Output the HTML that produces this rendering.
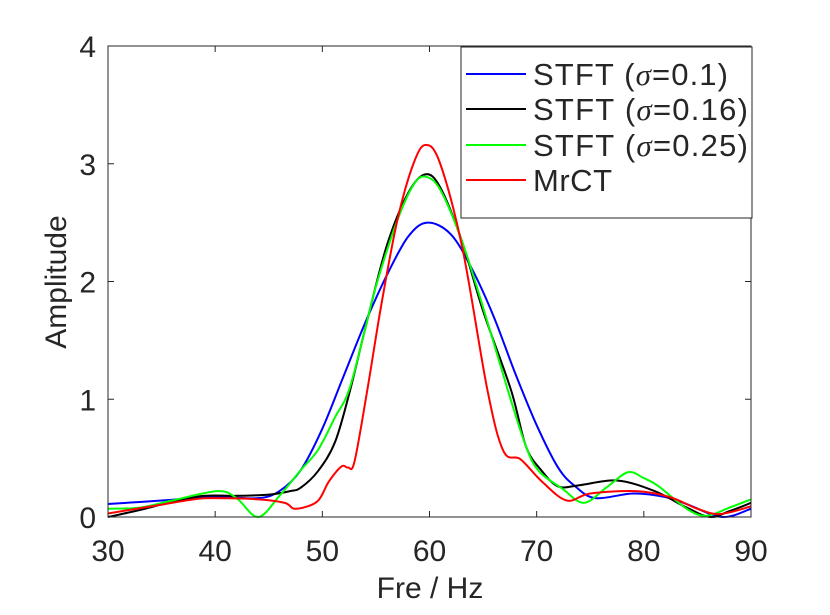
<!DOCTYPE html>
<html><head><meta charset="utf-8"><style>
body{margin:0;background:#fff}
svg text{font-family:"Liberation Sans",sans-serif;fill:#262626}
</style></head><body>
<svg id="chart" width="830" height="610" xmlns="http://www.w3.org/2000/svg">
<rect width="830" height="610" fill="#fff"/>
<g id="plot"></g>
<g id="axes"></g>
<g id="legend"></g>
</svg>
<script>
const xTicks=[30,40,50,60,70,80,90];
const yTicks=[0,1,2,3,4];
const blueX=[30,35,40,44,46,48,50,52,54,56,58,59.8,62,64,66,68,70,72,73.6,75.5,79,82,84,87.3,90];
const blueY=[0.11,0.14,0.17,0.16,0.22,0.40,0.75,1.2,1.65,2.05,2.38,2.5,2.4,2.1,1.7,1.22,0.78,0.42,0.26,0.16,0.2,0.17,0.11,0.0,0.07];
const blackX=[30,33,36,39,42,45,47,48,49.6,51.2,52.6,54,56,58,59.6,61,63,65,67.6,69,70.4,72,74,77.5,81,84,86.2,88,90];
const blackY=[0,0.06,0.13,0.18,0.18,0.19,0.22,0.25,0.39,0.64,1.08,1.6,2.3,2.75,2.91,2.8,2.35,1.75,1.08,0.6,0.40,0.26,0.27,0.31,0.22,0.08,0,0.05,0.12];
const greenX=[30,33,36,40.2,42,44,46,48,49.6,51.2,52.5,54,55.1,57,58.5,59.6,61,63,65,67.3,69,70.2,72.4,74.4,76.5,78.5,80,81.4,84,85.8,88,90];
const greenY=[0.07,0.08,0.14,0.22,0.16,0,0.18,0.4,0.57,0.85,1.08,1.6,1.99,2.52,2.82,2.89,2.78,2.35,1.78,1.08,0.6,0.39,0.24,0.12,0.25,0.38,0.33,0.26,0.07,0.01,0.08,0.15];
const redX=[30,34,38,40,44,46.5,47.5,49.5,50.6,51.8,52.4,53,54.2,55.5,57,58.5,59.65,61,63.1,65.4,66.9,68.5,70.5,72.8,75,79.3,82.4,85,87.1,90];
const redY=[0.03,0.09,0.15,0.16,0.15,0.12,0.07,0.13,0.3,0.43,0.42,0.47,1.08,1.8,2.52,3.0,3.16,3.0,2.27,1.08,0.56,0.49,0.3,0.14,0.2,0.22,0.17,0.07,0.025,0.09];
const seriesNames=["STFT (σ=0.1)","STFT (σ=0.16)","STFT (σ=0.25)","MrCT"];

const X0=108,X1=751,Y0=517,Y1=46;
const sx=v=>X0+(v-30)/60*(X1-X0);
const sy=v=>Y0-v/4*(Y0-Y1);
const NS="http://www.w3.org/2000/svg";
function mk(t,a,p){const e=document.createElementNS(NS,t);for(const k in a)e.setAttribute(k,a[k]);p.appendChild(e);return e;}
function path(xs,ys){
  const p=xs.map((x,i)=>[sx(x),sy(ys[i])]);
  let d="M"+p[0][0]+","+p[0][1];
  for(let i=0;i<p.length-1;i++){
    const a=p[Math.max(i-1,0)],b=p[i],c=p[i+1],e=p[Math.min(i+2,p.length-1)];
    const c1=[b[0]+(c[0]-a[0])/6,b[1]+(c[1]-a[1])/6],c2=[c[0]-(e[0]-b[0])/6,c[1]-(e[1]-b[1])/6];
    d+=" C"+c1+" "+c2+" "+c;
  }
  return d;
}
const plot=document.getElementById('plot');
const series=[[blueX,blueY,"#0000ff","blue-series"],[blackX,blackY,"#000000","black-series"],[greenX,greenY,"#00ff00","green-series"],[redX,redY,"#ff0000","red-series"]];
series.forEach(s=>{
  const el=mk('path',{d:path(s[0],s[1]),fill:"none",stroke:s[2],"stroke-width":2},plot);
  
  
});
const ax=document.getElementById('axes');
const box=mk('rect',{x:X0,y:Y1,width:X1-X0,height:Y0-Y1,fill:"none",stroke:"#262626","stroke-width":1},ax);


xTicks.forEach(t=>{
  const x=sx(t);
  mk('line',{x1:x,y1:Y0,x2:x,y2:Y0-6,stroke:"#262626"},ax);
  mk('line',{x1:x,y1:Y1,x2:x,y2:Y1+6,stroke:"#262626"},ax);
  const tx=mk('text',{x:x,y:561,"text-anchor":"middle","font-size":30},ax);
  tx.textContent=t;
  
  
});
yTicks.forEach(t=>{
  const y=sy(t);
  mk('line',{x1:X0,y1:y,x2:X0+6,y2:y,stroke:"#262626"},ax);
  mk('line',{x1:X1,y1:y,x2:X1-6,y2:y,stroke:"#262626"},ax);
  const tx=mk('text',{x:96,y:y+11,"text-anchor":"end","font-size":30},ax);
  tx.textContent=t;
  
  
});
const xt=mk('text',{x:430,y:598,"text-anchor":"middle","font-size":30},ax);
xt.textContent="Fre / Hz";


const yt=mk('text',{x:0,y:0,"text-anchor":"middle","font-size":30,transform:"translate(66,282) rotate(-90)"},ax);
yt.textContent="Amplitude";


const lg=document.getElementById('legend');
const lb=mk('rect',{x:461,y:47,width:291,height:171,fill:"#fff",stroke:"#262626"},lg);


const ly=[74,109,145,180];
const lw=[195,215,215,79];
seriesNames.forEach((n,i)=>{
  mk('line',{x1:466,y1:ly[i],x2:526,y2:ly[i],stroke:series[i][2],"stroke-width":2},lg);
  const t=mk('text',{x:533,y:ly[i]+11,"font-size":31,textLength:lw[i],lengthAdjust:"spacing"},lg);
  
  
  if(n.includes("σ")){
    const parts=n.split("σ");
    t.appendChild(document.createTextNode(parts[0]));
    const it=mk('tspan',{"font-style":"italic","font-family":"Liberation Serif, serif"},t);
    it.textContent="σ";
    t.appendChild(document.createTextNode(parts[1]));
  } else t.textContent=n;
});
</script>
</body></html>
